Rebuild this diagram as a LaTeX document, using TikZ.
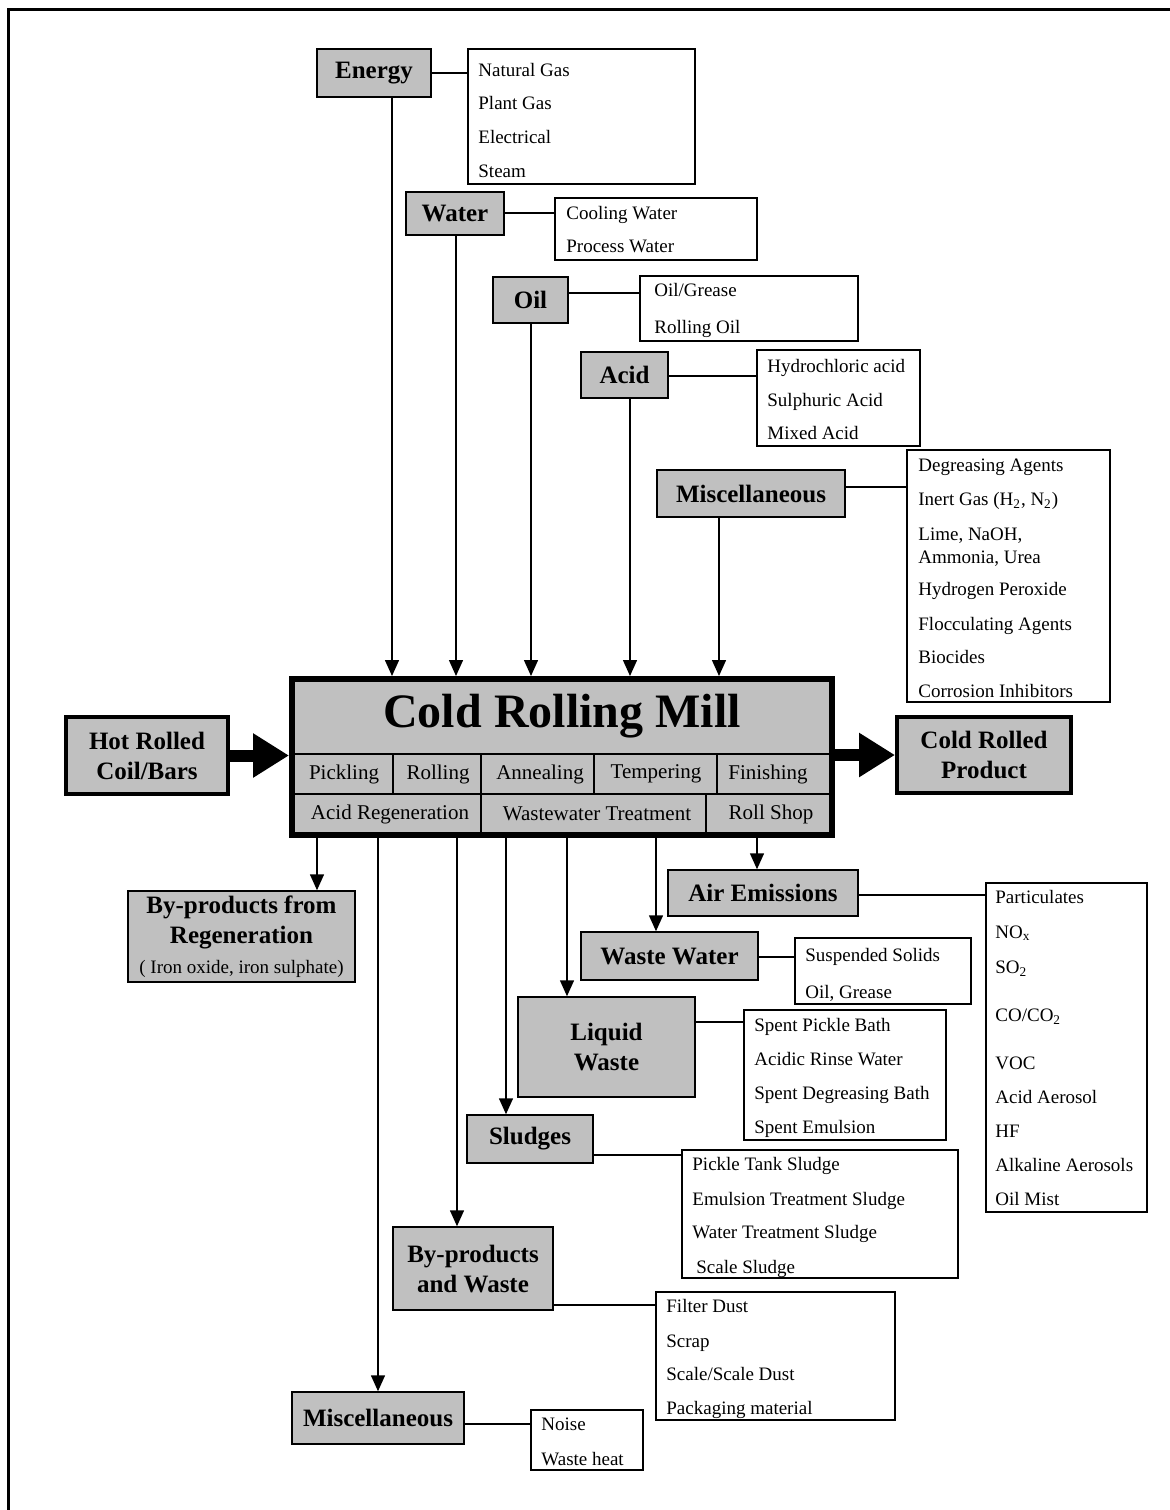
\documentclass[tikz,border=0pt]{standalone}
\usepackage{fontspec}
\setmainfont{Liberation Serif}
\usetikzlibrary{arrows.meta,positioning}
\definecolor{boxgray}{RGB}{192,192,192}
\tikzset{
  sz/.style 2 args={minimum width=#1*0.5pt,minimum height=#2*0.5pt},
  gbox/.style={draw,fill=boxgray,line width=0.75pt,inner sep=0pt,align=center,font=\bfseries\fontsize{12.5}{15}\selectfont},
  tbox/.style={gbox,line width=2pt},
  lbox/.style={draw,line width=0.75pt,inner sep=0pt},
  itm/.style={anchor=base west,inner sep=0pt,yshift=-3.3pt,font=\fontsize{9.5}{11}\selectfont},
  cell/.style={inner sep=0pt,font=\fontsize{10.5}{12}\selectfont},
  lnk/.style={line width=0.75pt},
  arr/.style={line width=0.75pt,-{Triangle[length=8pt,width=7pt]}},
  bigarr/.style={line width=6pt,-{Triangle[length=18pt,width=21pt]}}
}
\begin{document}
\begin{tikzpicture}[x=0.5pt,y=-0.5pt]
\useasboundingbox (0,0) rectangle (1170,1510);
\draw[line width=1.5pt] (8,1510) -- (8,9) -- (1170,9);

\node[draw,fill=boxgray,line width=3pt,sz={540}{156}] (mill) at (562,757) {};
\node[inner sep=0pt,font=\bfseries\fontsize{24}{28}\selectfont] (title) at (562,716) {Cold Rolling Mill};
\draw[lnk] (292,754) -- (832,754); \draw[lnk] (292,794) -- (832,794);
\foreach \x in {393,481,594,717} \draw[lnk] (\x,754) -- (\x,794);
\foreach \x in {481,706} \draw[lnk] (\x,794) -- (\x,835);
\foreach \t/\x [count=\i] in {Pickling/344,Rolling/438,Annealing/540,Tempering/656,Finishing/768}
  \node[cell] (ra\i) at (\x,774) {\t};
\foreach \t/\x [count=\i] in {Acid Regeneration/390,Wastewater Treatment/597,Roll Shop/771}
  \node[cell] (rb\i) at (\x,814) {\t};

\node[tbox,sz={162}{77}] (hr) at (147,755.5) {Hot Rolled\\Coil/Bars};
\node[tbox,sz={174}{76}] (cp) at (984,755) {Cold Rolled\\Product};
\draw[bigarr] (hr.east) -- (hr.east -| mill.west);
\draw[bigarr] (mill.east |- cp.west) -- (cp.west);

\node[gbox,sz={114}{48}] (en) at (374,73) {Energy};
\node[lbox,sz={227}{135}] (enl) at (581.5,116.5) {};
\foreach \t/\y [count=\i] in {Natural Gas/70,Plant Gas/103,Electrical/137,Steam/171}
  \node[itm] (en\i) at (478,\y) {\t};
\draw[lnk] (en.east |- 0,73) -- (enl.west |- 0,73);
\draw[arr] (en.south -| 392,0) -- (mill.north -| 392,0);

\node[gbox,sz={98}{43}] (wa) at (455,213.5) {Water};
\node[lbox,sz={202}{62}] (wal) at (656,229) {};
\foreach \t/\y [count=\i] in {Cooling Water/213,Process Water/246}
  \node[itm] (wa\i) at (566,\y) {\t};
\draw[lnk] (wa.east |- 0,213) -- (wal.west |- 0,213);
\draw[arr] (wa.south -| 456,0) -- (mill.north -| 456,0);

\node[gbox,sz={75}{46}] (oil) at (530.5,300) {Oil};
\node[lbox,sz={218}{65}] (oill) at (749,308.5) {};
\foreach \t/\y [count=\i] in {{Oil/Grease}/290,Rolling Oil/327}
  \node[itm] (oil\i) at (654,\y) {\t};
\draw[lnk] (oil.east |- 0,293) -- (oill.west |- 0,293);
\draw[arr] (oil.south -| 531,0) -- (mill.north -| 531,0);

\node[gbox,sz={87}{46}] (ac) at (624.5,375) {Acid};
\node[lbox,sz={163}{96}] (acl) at (838.5,398) {};
\foreach \t/\y [count=\i] in {Hydrochloric acid/366,Sulphuric Acid/400,Mixed Acid/433}
  \node[itm] (ac\i) at (767,\y) {\t};
\draw[lnk] (ac.east |- 0,376) -- (acl.west |- 0,376);
\draw[arr] (ac.south -| 630,0) -- (mill.north -| 630,0);

\node[gbox,sz={188}{47}] (mi) at (751,493.5) {Miscellaneous};
\node[lbox,sz={203}{252}] (mil) at (1008.5,576) {};
\foreach \t/\y [count=\i] in {Degreasing Agents/465,{Inert Gas (H\textsubscript{2}, N\textsubscript{2})}/499,{Lime, NaOH,}/534,{Ammonia, Urea}/557,Hydrogen Peroxide/589,Flocculating Agents/624,Biocides/657,Corrosion Inhibitors/691}
  \node[itm] (mi\i) at (918,\y) {\t};
\draw[lnk] (mi.east |- 0,487) -- (mil.west |- 0,487);
\draw[arr] (mi.south -| 719,0) -- (mill.north -| 719,0);

\node[gbox,sz={227}{91}] (byr) at (241.5,936.5) {By-products from\\Regeneration\\{\mdseries\fontsize{9.5}{11}\selectfont( Iron oxide, iron sulphate)}};
\draw[arr] (mill.south -| 317,0) -- (byr.north -| 317,0);

\node[gbox,sz={190}{46}] (air) at (763,893) {Air Emissions};
\node[lbox,sz={161}{329}] (airl) at (1066.5,1047.5) {};
\foreach \t/\y [count=\i] in {Particulates/897,NO\textsubscript{x}/932,SO\textsubscript{2}/967,{CO/CO\textsubscript{2}}/1015,VOC/1063,Acid Aerosol/1097,HF/1131,Alkaline Aerosols/1165,Oil Mist/1199}
  \node[itm] (air\i) at (995,\y) {\t};
\draw[lnk] (air.east |- 0,895) -- (airl.west |- 0,895);
\draw[arr] (mill.south -| 757,0) -- (air.north -| 757,0);

\node[gbox,sz={177}{48}] (ww) at (669.5,956) {Waste Water};
\node[lbox,sz={176}{66}] (wwl) at (883,971) {};
\foreach \t/\y [count=\i] in {Suspended Solids/955,{Oil, Grease}/992}
  \node[itm] (ww\i) at (805,\y) {\t};
\draw[lnk] (ww.east |- 0,957) -- (wwl.west |- 0,957);
\draw[arr] (mill.south -| 656,0) -- (ww.north -| 656,0);

\node[gbox,sz={177}{100}] (lw) at (606.5,1047) {Liquid\\Waste};
\node[lbox,sz={202}{130}] (lwl) at (845,1075) {};
\foreach \t/\y [count=\i] in {Spent Pickle Bath/1025,Acidic Rinse Water/1059,Spent Degreasing Bath/1093,Spent Emulsion/1127}
  \node[itm] (lw\i) at (754,\y) {\t};
\draw[lnk] (lw.east |- 0,1022) -- (lwl.west |- 0,1022);
\draw[arr] (mill.south -| 567,0) -- (lw.north -| 567,0);

\node[gbox,sz={126}{48}] (sl) at (530,1139) {Sludges};
\node[lbox,sz={276}{128}] (sll) at (820,1214) {};
\foreach \t/\y/\x [count=\i] in {Pickle Tank Sludge/1164/692,Emulsion Treatment Sludge/1199/692,Water Treatment Sludge/1232/692,Scale Sludge/1267/696}
  \node[itm] (sl\i) at (\x,\y) {\t};
\draw[lnk] (sl.east |- 0,1155) -- (sll.west |- 0,1155);
\draw[arr] (mill.south -| 506,0) -- (sl.north -| 506,0);

\node[gbox,sz={160}{83}] (bw) at (473,1268.5) {By-products\\and Waste};
\node[lbox,sz={239}{128}] (bwl) at (775.5,1356) {};
\foreach \t/\y [count=\i] in {Filter Dust/1306,Scrap/1341,{Scale/Scale Dust}/1374,Packaging material/1408}
  \node[itm] (bw\i) at (666,\y) {\t};
\draw[lnk] (bw.east |- 0,1305) -- (bwl.west |- 0,1305);
\draw[arr] (mill.south -| 457,0) -- (bw.north -| 457,0);

\node[gbox,sz={172}{52}] (mb) at (378,1418) {Miscellaneous};
\node[lbox,sz={112}{60}] (mbl) at (587,1440) {};
\foreach \t/\y [count=\i] in {Noise/1424,Waste heat/1459}
  \node[itm] (mb\i) at (541,\y) {\t};
\draw[lnk] (mb.east |- 0,1424) -- (mbl.west |- 0,1424);
\draw[arr] (mill.south -| 378,0) -- (mb.north -| 378,0);
\end{tikzpicture}
\end{document}
